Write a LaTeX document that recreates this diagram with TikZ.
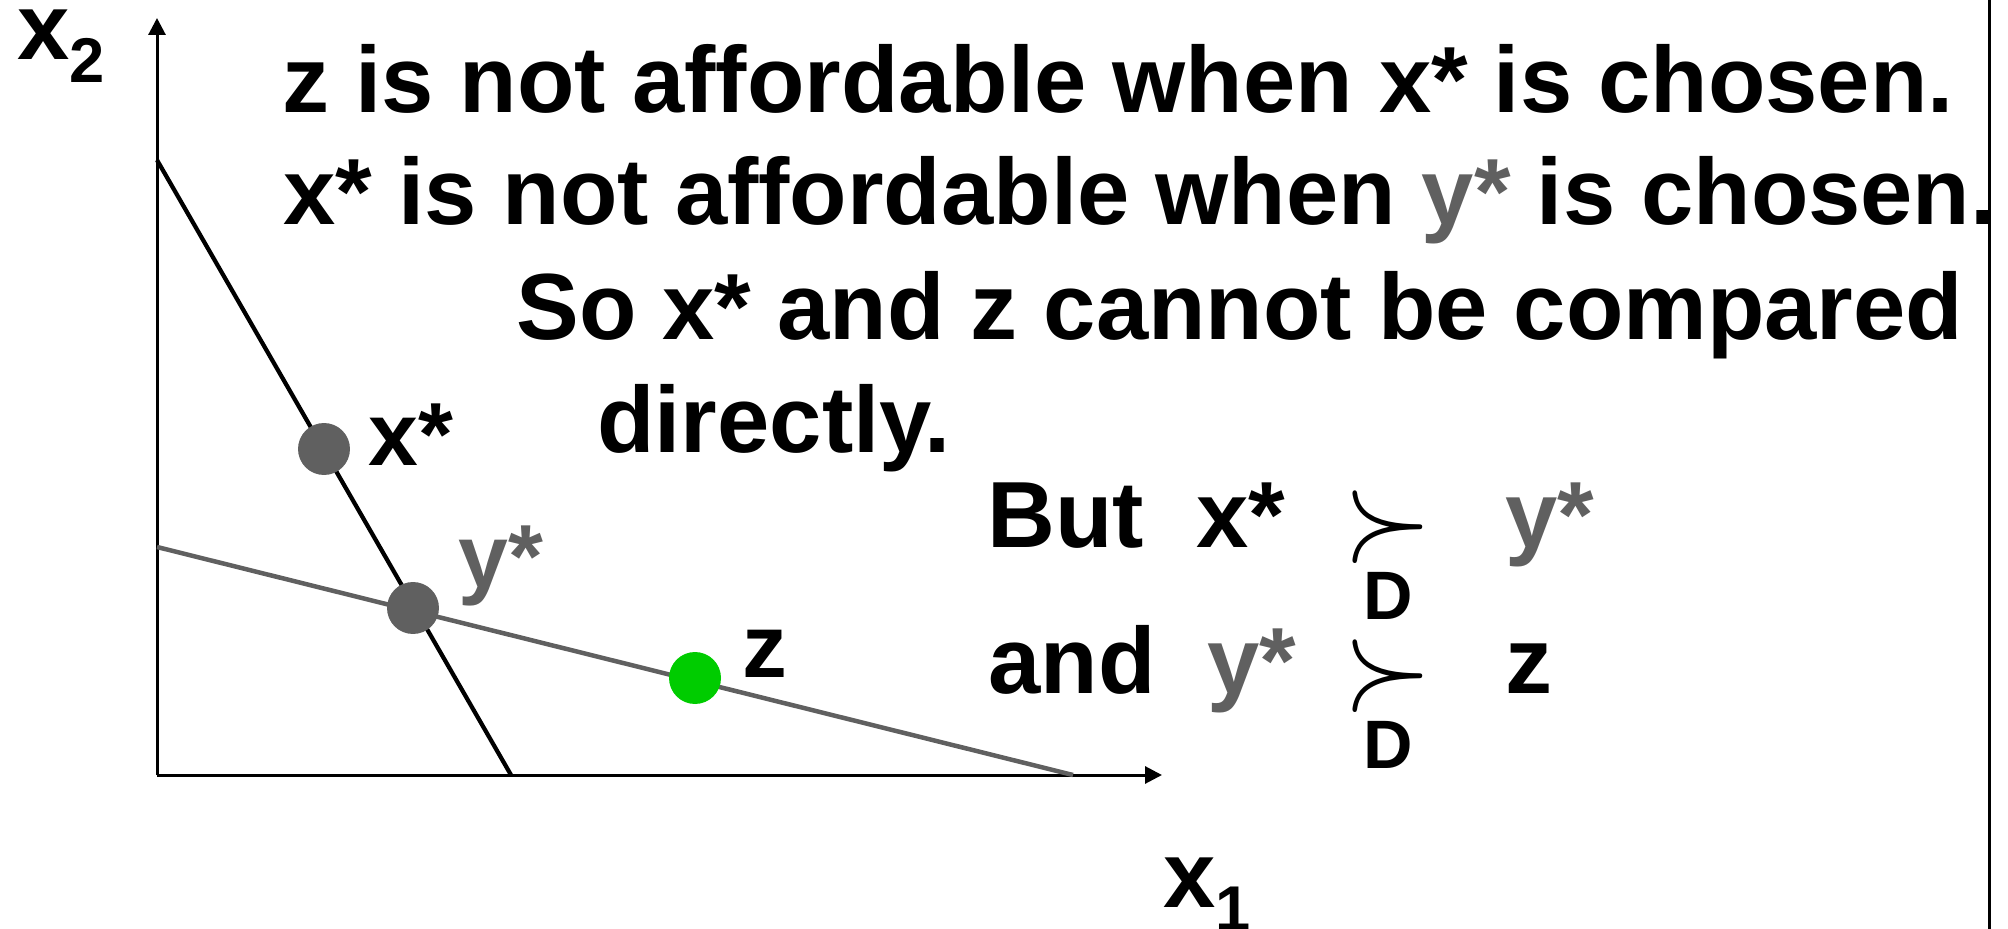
\RequirePackage{fix-cm}
\documentclass[tikz,border=0pt]{standalone}
\usepackage{fontspec}
\setmainfont{Liberation Sans}
\usepackage{xcolor}
\usetikzlibrary{arrows.meta}

\definecolor{ygray}{RGB}{96,96,96}
\definecolor{zgreen}{RGB}{0,204,0}

\begin{document}
\begin{tikzpicture}[
  x=0.02cm,y=-0.02cm,
  big/.style={anchor=base west,inner sep=0pt,font=\fontsize{53.5}{64}\selectfont\bfseries},
  lbl/.style={anchor=base west,inner sep=0pt,font=\fontsize{51}{60}\selectfont\bfseries},
  sub/.style={anchor=base west,inner sep=0pt,font=\fontsize{39}{46}\selectfont\bfseries},
  rel/.style={inner sep=0pt,font=\fontsize{65}{65}\selectfont},
  bundle/.style={circle,inner sep=0pt,minimum size=1.04cm,fill=ygray},
  axis/.style={-{Triangle[length=0.34cm,width=0.34cm]},line width=0.06cm},
  bline/.style={line width=0.085cm},
  gline/.style={line width=0.09cm,draw=ygray}
]
\useasboundingbox (0,0) rectangle (2008,929);
% axes
\coordinate (O) at (157,775);
\coordinate (ytip) at (157,18);
\coordinate (xtip) at (1162,775);
\draw[axis] (O) -- (ytip);
\draw[axis] (O) -- (xtip);
\node[big] (xtwo) at (17,60) {x\raisebox{-0.46cm}{\fontsize{36}{36}\selectfont 2}};
\node[big] (xone) at (1163,907) {x\raisebox{-0.46cm}{\fontsize{36}{36}\selectfont 1}};
% budget lines
\coordinate (bx) at (157,160); \coordinate (bxe) at (511,775);
\coordinate (by) at (157,547); \coordinate (bye) at (1073,775);
\draw[bline] (bx) -- (bxe);
\draw[gline] (by) -- (bye);
% bundles
\node[bundle] (xs) at (324,449) {};
\node[bundle] (ys) at (413,608) {};
\node[bundle,fill=zgreen] (z) at (695,678) {};
\node[lbl] (xslbl) at (368,465) {x*};
\node[lbl,text=ygray] (yslbl) at (458,587) {y*};
\node[lbl] (zlbl) at (742,677) {z};
% text
\node[big] (l1) at (282,113) {z is not affordable when x* is chosen.};
\node[big] (l2) at (283,225) {x* is not affordable when \textcolor{ygray}{y*} is chosen.};
\node[big] (l3) at (516,339) {So x* and z cannot be compared};
\node[big] (l4) at (597,452) {directly.};
\node[big] (but) at (987,547) {But\ \ x*};
\node[big] (and) at (988,693) {and\ \ \textcolor{ygray}{y*}};
\node[rel] (succa) at (1388,527) {\scalebox{1}[1.1]{$\succ$}};
\node[rel] (succb) at (1388,676) {\scalebox{1}[1.1]{$\succ$}};
\node[sub] (da) at (1363,619) {D};
\node[sub] (db) at (1363,768) {D};
\node[big,text=ygray] (yr) at (1505,547) {y*};
\node[big] (zr) at (1505,693) {z};
% right edge
\coordinate (et) at (1989,0); \coordinate (eb) at (1989,929);
\draw[line width=0.06cm] (et) -- (eb);
\end{tikzpicture}
\end{document}
